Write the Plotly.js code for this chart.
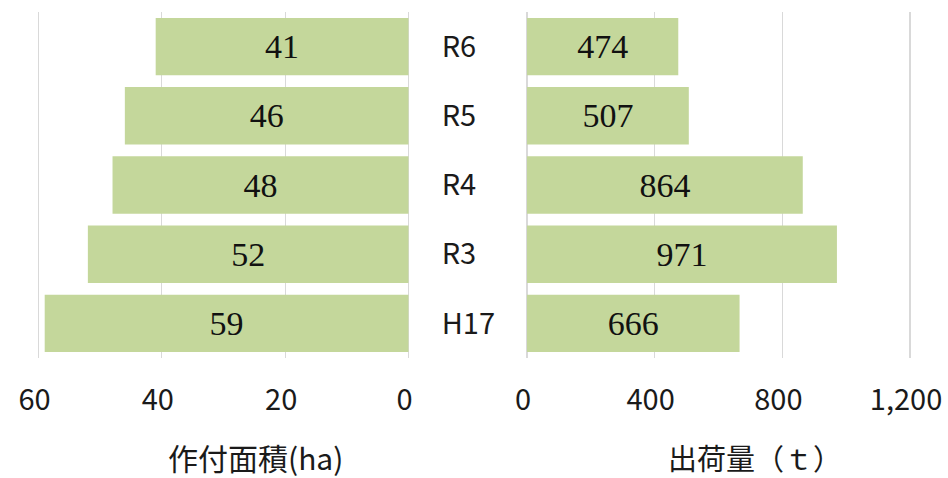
<!DOCTYPE html>
<html><head><meta charset="utf-8">
<script src="https://cdn.plot.ly/plotly-3.0.1.min.js"></script>
<style>html,body{margin:0;padding:0;background:#fff;}</style>
</head><body>
<div id="chart" style="width:948px;height:478px;"></div>
<script>
const categories = ['H17', 'R3', 'R4', 'R5', 'R6'];
const areaHa = [59, 52, 48, 46, 41];
const shipmentT = [666, 971, 864, 507, 474];
const leftTitle = '作付面積(ha)';
const rightTitle = '出荷量（ｔ）';

const barColor = '#c4d79b';
const sans = 'Noto Sans CJK JP, Noto Sans, sans-serif';
const serif = 'Liberation Serif, DejaVu Serif, serif';

const traces = [
  {type:'bar', orientation:'h', y:categories, x:areaHa, xaxis:'x', yaxis:'y',
   marker:{color:barColor}, text:areaHa.map(String), textposition:'inside',
   insidetextanchor:'middle', textfont:{family:serif, size:34, color:'#111'},
   hoverinfo:'x+y', cliponaxis:false},
  {type:'bar', orientation:'h', y:categories, x:shipmentT, xaxis:'x2', yaxis:'y2',
   marker:{color:barColor}, text:shipmentT.map(String), textposition:'inside',
   insidetextanchor:'middle', textfont:{family:serif, size:34, color:'#111'},
   hoverinfo:'x+y', cliponaxis:false}
];

const W = 948, H = 478;
const yDom = [(H-358)/H, (H-12)/H];
const layout = {
  width:W, height:H, margin:{l:0,r:0,t:0,b:0},
  paper_bgcolor:'#fff', plot_bgcolor:'#fff',
  showlegend:false, bargap:0.17,
  font:{family:sans, color:'#1a1a1a'},
  xaxis:{domain:[37.3/W, 409.7/W], range:[60.2,-0.2], dtick:20, tick0:0,
    showgrid:true, gridcolor:'#d9d9d9', gridwidth:1.3, zeroline:false,
    showline:false, ticks:'', ticklabelstandoff:22, ticklabelshift:4,
    tickfont:{family:sans, size:29, color:'#1a1a1a'}, anchor:'y'},
  yaxis:{domain:yDom, type:'category', side:'right', anchor:'x',
    showgrid:false, zeroline:false, showline:false, ticks:'',
    ticklabelstandoff:31, tickfont:{family:sans, size:29, color:'#1a1a1a'}},
  xaxis2:{domain:[525.7/W, 911.3/W], range:[-4,1204], dtick:400, tick0:0,
    tickformat:',', showgrid:true, gridcolor:'#d9d9d9', gridwidth:1.3,
    zeroline:false, showline:false, ticks:'', ticklabelstandoff:22, ticklabelshift:-4,
    tickfont:{family:sans, size:29, color:'#1a1a1a'}, anchor:'y2'},
  yaxis2:{domain:yDom, type:'category', anchor:'x2', showticklabels:false,
    showgrid:false, zeroline:false, showline:false, ticks:''},
  annotations:[
    {text:leftTitle, xref:'paper', yref:'paper', x:256/W, y:(H-457)/H,
     xanchor:'center', yanchor:'middle', showarrow:false,
     font:{family:sans, size:30, color:'#1a1a1a'}},
    {text:rightTitle, xref:'paper', yref:'paper', x:755/W, y:(H-457)/H,
     xanchor:'center', yanchor:'middle', showarrow:false,
     font:{family:sans, size:29, color:'#1a1a1a'}}
  ]
};
Plotly.newPlot('chart', traces, layout, {staticPlot:true, displayModeBar:false});
</script>
</body></html>
